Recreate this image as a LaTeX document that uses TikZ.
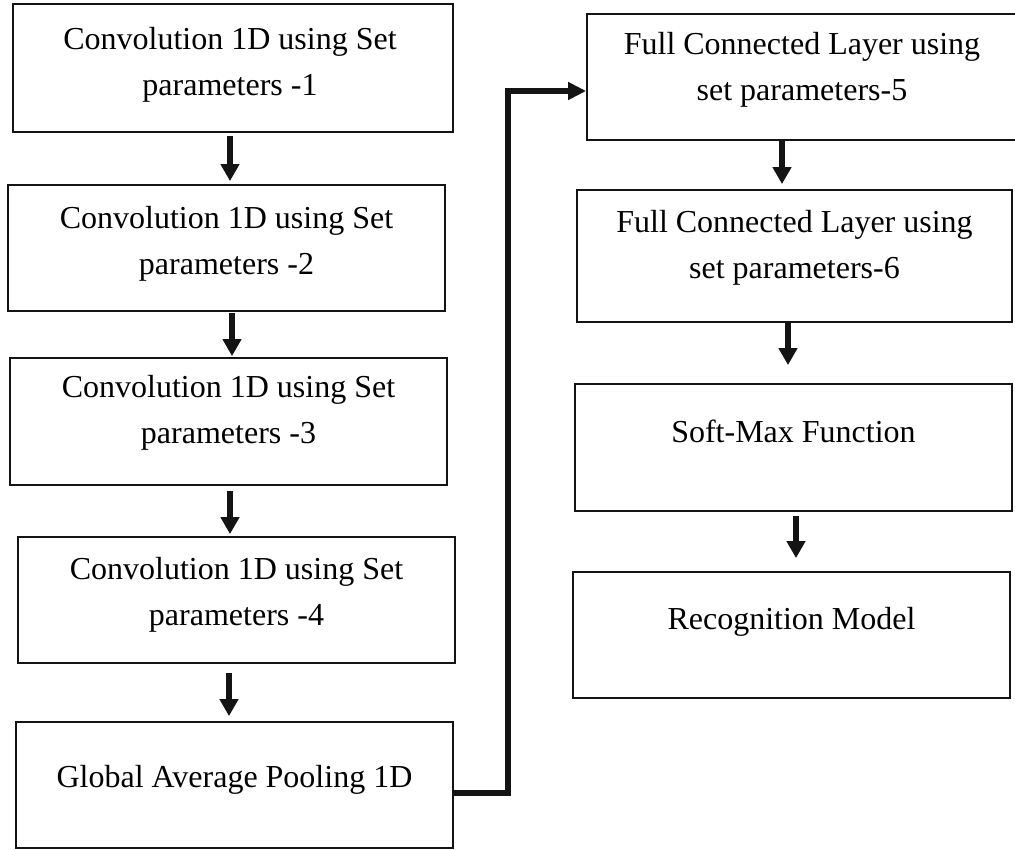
\documentclass[tikz,border=0pt]{standalone}
\usepackage{fontspec}
\setmainfont{Liberation Serif}
\usetikzlibrary{arrows.meta,calc}

\tikzset{
  box/.style={draw=black!92, line width=1.8pt, rectangle, inner sep=0pt, fill=white},
  lbl/.style={anchor=north, inner sep=0pt, align=center, text=black,
    font=\fontsize{32}{46}\selectfont},
  flow/.style={draw=black!92, line width=6.5pt,
    -{Triangle[width=18pt,length=17pt]}},
  link/.style={draw=black!92, line width=6pt, line join=miter,
    -{Triangle[width=17pt,length=18pt]}},
}

\begin{document}
\begin{tikzpicture}[x=1pt,y=-1pt]
\useasboundingbox (0,0) rectangle (1015,849);

% left column: convolution stages and pooling
\node[box, minimum width=440pt, minimum height=128pt] (b1) at (233,68) {};
\node[box, minimum width=437pt, minimum height=126pt] (b2) at (226.5,248) {};
\node[box, minimum width=437pt, minimum height=127pt] (b3) at (228.5,421.5) {};
\node[box, minimum width=437pt, minimum height=126pt] (b4) at (236.5,600) {};
\node[box, minimum width=437pt, minimum height=126pt] (b5) at (234.5,785) {};

% right column: dense layers, softmax, output
\node[box, minimum width=430pt, minimum height=126pt] (b6) at (802,77) {};
\node[box, minimum width=435pt, minimum height=132pt] (b7) at (794.5,256) {};
\node[box, minimum width=437pt, minimum height=127pt] (b8) at (793.5,447.5) {};
\node[box, minimum width=437pt, minimum height=126pt] (b9) at (791.5,635) {};

% box captions
\node[lbl] (t1) at ([xshift=-3pt,yshift=-24pt]b1.north) {Convolution 1D using Set\\parameters -1};
\node[lbl] (t2) at ([yshift=-22pt]b2.north) {Convolution 1D using Set\\parameters -2};
\node[lbl] (t3) at ([yshift=-18pt]b3.north) {Convolution 1D using Set\\parameters -3};
\node[lbl] (t4) at ([yshift=-21pt]b4.north) {Convolution 1D using Set\\parameters -4};
\node[lbl] (t5) at ([yshift=-44pt]b5.north) {Global Average Pooling 1D};
\node[lbl] (t6) at ([yshift=-19pt]b6.north) {Full Connected Layer using\\set parameters-5};
\node[lbl] (t7) at ([yshift=-21pt]b7.north) {Full Connected Layer using\\set parameters-6};
\node[lbl] (t8) at ([yshift=-37pt]b8.north) {Soft-Max Function};
\node[lbl] (t9) at ([yshift=-36pt]b9.north) {Recognition Model};

% downward arrows between stages
\draw[flow, shorten <=3pt, shorten >=3pt] ([xshift=-3pt]b1.south) -- ([xshift=-3pt]b1.south |- b2.north);
\draw[flow, shorten <=1pt, shorten >=1pt] ([xshift=5.5pt]b2.south) -- ([xshift=5.5pt]b2.south |- b3.north);
\draw[flow, shorten <=5pt, shorten >=2pt] ([xshift=1.5pt]b3.south) -- ([xshift=1.5pt]b3.south |- b4.north);
\draw[flow, shorten <=9pt, shorten >=5pt] ([xshift=-7.5pt]b4.south) -- ([xshift=-7.5pt]b4.south |- b5.north);
\draw[flow, shorten >=5pt] ([xshift=-20pt]b6.south) -- ([xshift=-20pt]b6.south |- b7.north);
\draw[flow, shorten >=18pt] ([xshift=-6.5pt]b7.south) -- ([xshift=-6.5pt]b7.south |- b8.north);
\draw[flow, shorten <=4pt, shorten >=13pt] ([xshift=2.5pt]b8.south) -- ([xshift=2.5pt]b8.south |- b9.north);

% link from pooling output up to the first dense layer
\coordinate (bend) at (508,91);
\draw[link] ([yshift=-8pt]b5.east) -| (bend) -- (bend -| b6.west);
\end{tikzpicture}
\end{document}
